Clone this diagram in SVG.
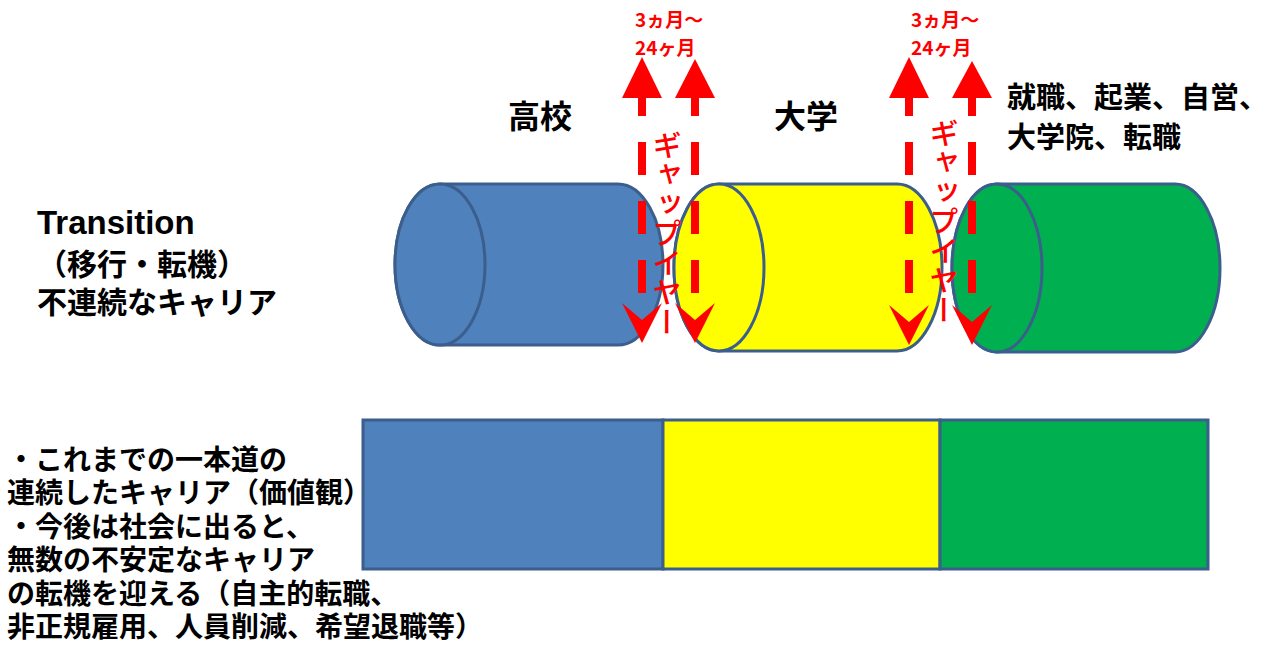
<svg xmlns="http://www.w3.org/2000/svg" width="1274" height="650" viewBox="0 0 1274 650">
<style>
.cyl{stroke:#3B5E8C;stroke-width:3}
.blue{fill:#4F81BD}.yellow{fill:#FFFF00}.green{fill:#00B050}
.box{stroke:#3B5E8C;stroke-width:3}
.jp{font-family:"Noto Sans CJK JP","Liberation Sans",sans-serif;font-weight:bold;fill:#000}
.lat{font-family:"Liberation Sans",Arial,sans-serif;font-weight:bold;fill:#000}
.red{fill:#FF0000}
.redt{font-family:"Noto Sans CJK JP","Liberation Sans",sans-serif;font-weight:bold;fill:#FF0000;font-size:19px}
.vt{font-family:"Noto Sans CJK JP",sans-serif;font-weight:500;fill:#FF0000;font-size:29.5px;writing-mode:vertical-rl}
.dash{stroke:#FF0000;stroke-width:8;stroke-dasharray:33 26;fill:none}
</style>
<rect width="1274" height="650" fill="#fff"/>

<g id="cyl-highschool">
<path class="cyl blue" d="M440,184 H618 A45,80.5 0 0 1 618,345 H440 A45,80.5 0 0 1 440,184 Z"/>
<ellipse class="cyl blue" cx="440" cy="264.5" rx="45" ry="80.5"/>
</g>
<g id="cyl-university">
<path class="cyl yellow" d="M719,184 H897 A45,83.5 0 0 1 897,351 H719 A45,83.5 0 0 1 719,184 Z"/>
<ellipse class="cyl yellow" cx="719" cy="267.5" rx="45" ry="83.5"/>
</g>
<g id="cyl-career">
<path class="cyl green" d="M997,184 H1175 A45,84 0 0 1 1175,352 H997 A45,84 0 0 1 997,184 Z"/>
<ellipse class="cyl green" cx="997" cy="268" rx="45" ry="84"/>
</g>

<g id="bar-highschool"><rect class="box blue" x="363" y="420" width="300" height="149"/></g>
<g id="bar-university"><rect class="box yellow" x="663" y="420" width="277" height="149"/></g>
<g id="bar-career"><rect class="box green" x="940" y="420" width="268" height="149"/></g>

<g id="connectors">
<g id="arrow-g1a">
<line class="dash" x1="642" y1="83" x2="642" y2="305"/>
<polygon class="red" points="642,57 622,98 662,98"/>
<polygon class="red" points="622,303 642,320 662,303 642,343"/>
</g>
<g id="arrow-g1b">
<line class="dash" x1="695" y1="83" x2="695" y2="305"/>
<polygon class="red" points="695,59 675,98 715,98"/>
<polygon class="red" points="675,303 695,320 715,303 695,343"/>
</g>
<g id="arrow-g2a">
<line class="dash" x1="909" y1="83" x2="909" y2="305"/>
<polygon class="red" points="909,57 889,98 929,98"/>
<polygon class="red" points="889,305 909,322 929,305 909,345"/>
</g>
<g id="arrow-g2b">
<line class="dash" x1="972" y1="83" x2="972" y2="305"/>
<polygon class="red" points="972,61 952,98 992,98"/>
<polygon class="red" points="952,305 972,322 992,305 972,345"/>
</g>
</g>

<g id="gap1-label">
<text class="redt" x="635" y="27">3ヵ月～</text>
<text class="redt" x="635" y="55">24ヶ月</text>
<text class="vt" x="667" y="130">ギャップイヤー</text>
</g>
<g id="gap2-label">
<text class="redt" x="911" y="27">3ヵ月～</text>
<text class="redt" x="911" y="55">24ヶ月</text>
<text class="vt" x="944" y="118">ギャップイヤー</text>
</g>

<g id="label-highschool"><text class="jp" x="540" y="128" font-size="32" text-anchor="middle">高校</text></g>
<g id="label-university"><text class="jp" x="806" y="128" font-size="32" text-anchor="middle">大学</text></g>
<g id="label-career">
<text class="jp" x="1007" y="108" font-size="29">就職、起業、自営、</text>
<text class="jp" x="1007" y="148" font-size="29">大学院、転職</text>
</g>

<g id="label-transition">
<text class="lat" x="37" y="234" font-size="33">Transition</text>
<text class="jp" x="37" y="275" font-size="30">（移行・転機）</text>
<text class="jp" x="37" y="313" font-size="30">不連続なキャリア</text>
</g>

<g id="label-notes" font-size="28">
<text class="jp" x="7" y="470">・これまでの一本道の</text>
<text class="jp" x="7" y="503">連続したキャリア（価値観）</text>
<text class="jp" x="7" y="537">・今後は社会に出ると、</text>
<text class="jp" x="7" y="570">無数の不安定なキャリア</text>
<text class="jp" x="7" y="604">の転機を迎える（自主的転職、</text>
<text class="jp" x="7" y="637">非正規雇用、人員削減、希望退職等）</text>
</g>
</svg>
